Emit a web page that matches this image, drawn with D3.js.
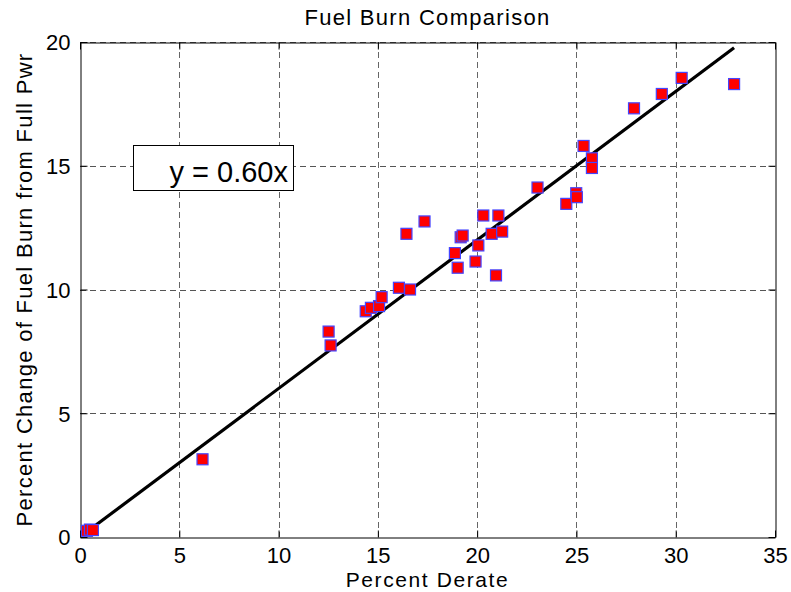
<!DOCTYPE html>
<html>
<head>
<meta charset="utf-8">
<script src="https://cdn.jsdelivr.net/npm/d3@7"></script>
<style>
  html, body { margin: 0; padding: 0; background: #fff; }
  svg { display: block; font-family: "Liberation Sans", Arial, Helvetica, sans-serif; }
</style>
</head>
<body>
<svg id="chart" width="791" height="592"></svg>
<script>
// ---- data ----
const derate = [0.35, 0.5, 0.65, 6.17, 12.52, 12.62, 14.39, 14.65, 15.06, 15.19, 16.06, 16.62, 16.44, 17.35,
  18.88, 19.02, 19.17, 19.27, 19.92, 20.06, 20.31, 21.07, 20.73, 21.26, 20.95, 23.04, 24.49, 24.99, 25.02,
  25.36, 25.78, 25.78, 27.9, 29.3, 30.3, 32.94];
const fuelChange = [0.25, 0.3, 0.28, 3.14, 8.3, 7.74, 9.12, 9.26, 9.33, 9.69, 10.07, 10.0, 12.25, 12.75,
  11.47, 10.88, 12.11, 12.18, 11.13, 11.78, 12.99, 12.99, 12.25, 12.34, 10.57, 14.12, 13.46, 13.89, 13.73,
  15.8, 15.3, 14.91, 17.32, 17.9, 18.55, 18.3];
const slope = [0.60];
const xTicks = [0, 5, 10, 15, 20, 25, 30, 35];
const yTicks = [0, 5, 10, 15, 20];
const titleText = ["Fuel Burn Comparison"];
const xLabel = ["Percent Derate"];
const yLabel = ["Percent Change of Fuel Burn from Full Pwr"];
const fitLabel = ["y = 0.60x"];

// ---- layout ----
const svg = d3.select("#chart");
const L = 80, R = 775, T = 42, B = 537;
const x = d3.scaleLinear().domain([0, 35]).range([L, R]);
const y = d3.scaleLinear().domain([0, 20]).range([B, T]);
const font = "'Liberation Sans', Arial, Helvetica, sans-serif";

// grid
const grid = svg.append("g");
grid.selectAll("line.vx").data(xTicks.slice(1, -1)).join("line")
  .attr("x1", d => Math.round(x(d)) + 0.5).attr("x2", d => Math.round(x(d)) + 0.5)
  .attr("y1", T).attr("y2", B)
  .attr("stroke", "#666").attr("stroke-width", 1).attr("stroke-dasharray", "6,4");
grid.selectAll("line.hy").data(yTicks.slice(1)).join("line")
  .attr("y1", d => Math.round(y(d)) + 0.5).attr("y2", d => Math.round(y(d)) + 0.5)
  .attr("x1", L).attr("x2", R)
  .attr("stroke", "#555").attr("stroke-width", 1).attr("stroke-dasharray", "6,4");

// axes (box with inward ticks on all four sides)
const axB = svg.append("g").attr("transform", `translate(0,${B + 0.5})`)
  .call(d3.axisBottom(x).tickValues(xTicks).tickSizeInner(-7).tickSizeOuter(0).tickPadding(17));
const axT = svg.append("g").attr("transform", `translate(0,${T + 0.5})`)
  .call(d3.axisTop(x).tickValues(xTicks).tickSizeInner(-7).tickSizeOuter(0).tickFormat(""));
const axL = svg.append("g").attr("transform", `translate(${L + 0.5},0)`)
  .call(d3.axisLeft(y).tickValues(yTicks).tickSizeInner(-7).tickSizeOuter(0).tickPadding(10));
const axR = svg.append("g").attr("transform", `translate(${R + 0.5},0)`)
  .call(d3.axisRight(y).tickValues(yTicks).tickSizeInner(-7).tickSizeOuter(0).tickFormat(""));
[axB, axT, axL, axR].forEach(a => {
  a.select(".domain").attr("stroke", "#000").attr("stroke-width", 1);
  a.selectAll(".tick line").attr("stroke", "#000");
  a.selectAll("text").attr("font-family", font).attr("font-size", 22).attr("fill", "#000");
});
axL.selectAll(".tick text").attr("dy", "0.36em");
axB.selectAll(".tick text").attr("y", 0).attr("dy", 0)
  .attr("transform", "translate(0,25)");

// fit line
const xr = d3.extent(derate);
const fitPts = xr.map(v => [v, slope[0] * v]);
svg.append("path")
  .attr("d", d3.line().x(d => x(d[0])).y(d => y(d[1]))(fitPts))
  .attr("stroke", "#000").attr("stroke-width", 3.2).attr("fill", "none");

// markers
const pts = derate.map((d, i) => ({ x: d, y: fuelChange[i] }));
const ms = 11;
svg.append("g").selectAll("rect").data(pts).join("rect")
  .attr("x", d => x(d.x) - ms / 2).attr("y", d => y(d.y) - ms / 2)
  .attr("width", ms).attr("height", ms)
  .attr("fill", "#ff0000").attr("stroke", "#4444ff").attr("stroke-width", 1.2);

// legend/text box
svg.append("rect").attr("x", 133.5).attr("y", 145.5).attr("width", 160).attr("height", 45)
  .attr("fill", "#fff").attr("stroke", "#000").attr("stroke-width", 1);
svg.append("text").attr("x", 288).attr("y", 182).attr("text-anchor", "end")
  .attr("font-family", font).attr("font-size", 29).text(fitLabel[0]);

// title & labels
svg.append("text").attr("x", (L + R) / 2).attr("y", 25).attr("text-anchor", "middle")
  .attr("font-family", font).attr("font-size", 22).attr("letter-spacing", "1.3px").text(titleText[0]);
svg.append("text").attr("x", (L + R) / 2).attr("y", 587).attr("text-anchor", "middle")
  .attr("font-family", font).attr("font-size", 21).attr("letter-spacing", "1.6px").text(xLabel[0]);
svg.append("text").attr("transform", `translate(32,${(T + B) / 2}) rotate(-90)`).attr("text-anchor", "middle")
  .attr("font-family", font).attr("font-size", 22).attr("letter-spacing", "1.3px").text(yLabel[0]);
</script>
</body>
</html>
